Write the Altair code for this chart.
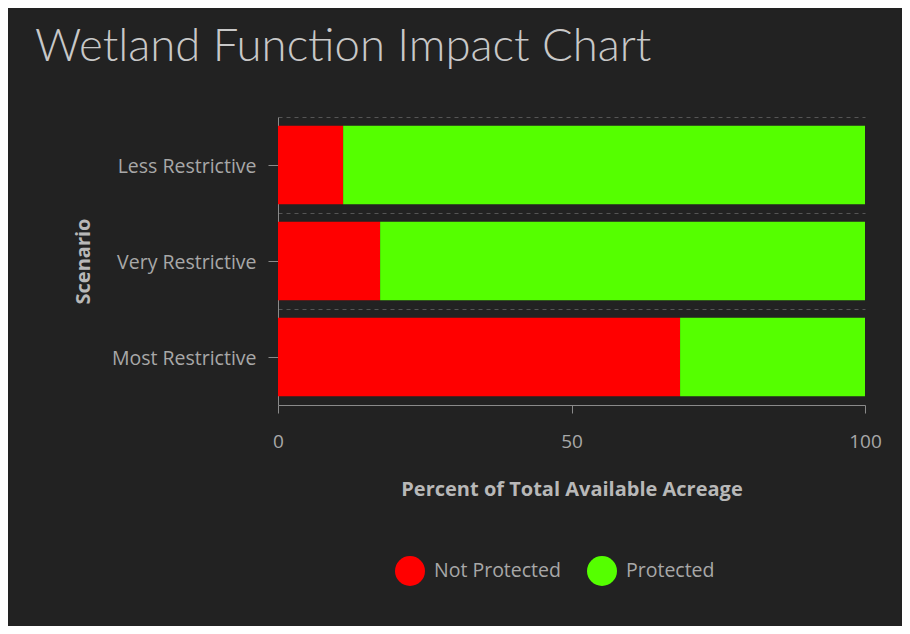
import altair as alt
import pandas as pd

scenarios = ["Less Restrictive", "Very Restrictive", "Most Restrictive"]
not_protected = [11.1, 17.4, 68.5]
protected = [88.9, 82.6, 31.5]
statuses = ["Not Protected", "Protected"]
colors = ["#ff0000", "#55ff00"]

rows = []
for s, a, b in zip(scenarios, not_protected, protected):
    rows.append({"Scenario": s, "Status": statuses[0], "Percent": a, "k": 0})
    rows.append({"Scenario": s, "Status": statuses[1], "Percent": b, "k": 1})
df = pd.DataFrame(rows)

FONT = "Open Sans"
LABEL = "#a8a8a8"
PI = 0.18

yscale = alt.Scale(domain=scenarios, paddingInner=PI, paddingOuter=PI / 2)

bars = alt.Chart(df).mark_bar().encode(
    x=alt.X("Percent:Q", stack="zero",
            scale=alt.Scale(domain=[0, 100]),
            axis=alt.Axis(title="Percent of Total Available Acreage", values=[0, 50, 100],
                          grid=False, tickSize=8, labelPadding=19, titlePadding=28,
                          labelFlush=False,
                          labelFontSize=19, titleFontSize=20, labelFont=FONT, titleFont=FONT,
                          titleFontWeight="bold", labelColor=LABEL, titleColor="#b8b8b8",
                          domainColor="#8a8a8a", tickColor="#8a8a8a")),
    y=alt.Y("Scenario:N", scale=yscale,
            axis=alt.Axis(title="Scenario", grid=False, tickSize=10, labelPadding=12,
                          labelOffset=2,
                          titlePadding=18, labelFontSize=19.5, titleFontSize=20,
                          labelFont=FONT, titleFont=FONT, titleFontWeight="bold",
                          labelColor=LABEL, titleColor="#b8b8b8", domainColor="#8a8a8a",
                          tickColor="#8a8a8a", orient="left")),
    color=alt.Color("Status:N", scale=alt.Scale(domain=statuses, range=colors),
                    legend=alt.Legend(title=None, orient="none", direction="horizontal",
                                      legendX=117, legendY=439, symbolType="circle",
                                      symbolSize=900, symbolStrokeWidth=0, labelFontSize=19.5,
                                      labelFont=FONT, labelColor=LABEL, labelOffset=9,
                                      columnPadding=26, padding=0)),
    order=alt.Order("k:Q"),
)

grid = alt.Chart(df).mark_bar(opacity=0).encode(
    x=alt.X("Percent:Q", stack="zero", scale=alt.Scale(domain=[0, 100])),
    y=alt.Y("Scenario:N", scale=yscale,
            axis=alt.Axis(title=None, labels=False, ticks=False, domain=False, grid=True,
                          bandPosition=-(PI / 2) / (1 - PI),
                          gridColor="#555555", gridDash=[4, 4],
                          gridWidth=1, orient="left")),
)

chart = alt.layer(grid, bars).resolve_axis(y="independent").properties(
    width=587, height=288,
    autosize=alt.AutoSizeParams(type="none"),
    padding={"left": 270, "top": 109, "right": 37, "bottom": 221},
    background="#222222",
    title=alt.TitleParams("Wetland Function Impact Chart", anchor="start", frame="group",
                          dx=-243, offset=11, baseline="alphabetic", fontSize=45.5, font="Lato",
                          fontWeight=300, color="#c8c8c8"),
).configure_view(stroke=None)

chart.save("out.html", embed_options={"renderer": "svg", "actions": False})
